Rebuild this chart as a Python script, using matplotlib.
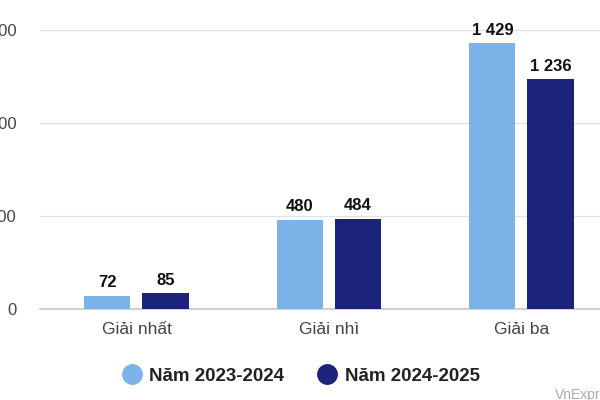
import matplotlib
matplotlib.use("Agg")
import matplotlib.pyplot as plt
from matplotlib.lines import Line2D
import numpy as np

categories = ["Giải nhất", "Giải nhì", "Giải ba"]
series_names = ["Năm 2023-2024", "Năm 2024-2025"]
values_2324 = [72, 480, 1429]
values_2425 = [85, 484, 1236]
yticks = [0, 500, 1000, 1500]
ytick_labels = ["0", "500", "1 000", "1 500"]
colors = ["#7cb4ea", "#1b237a"]

plt.rcParams['font.family'] = ['Liberation Sans', 'DejaVu Sans']

fig = plt.figure(figsize=(6, 4), dpi=100)
ax = fig.add_axes([0.067, 0.2275, 0.9625, 0.6975])

x = np.arange(len(categories))
w = 0.24
off = 0.151
for vals, col, sign in [(values_2324, colors[0], -1), (values_2425, colors[1], 1)]:
    bars = ax.bar(x + sign * off, vals, width=w, color=col, zorder=3)
    for b, v in zip(bars, vals):
        lab = f"{v:,}".replace(",", " ")
        ax.annotate(lab, (b.get_x() + b.get_width() / 2, v), xytext=(0, 4),
                    textcoords="offset points", ha="center", va="bottom",
                    fontsize=12, fontweight="bold", color="#111111",
                    annotation_clip=False)

ax.set_xlim(-0.5, 2.5)
ax.set_ylim(0, 1500)
ax.set_yticks(yticks)
ax.set_yticklabels(ytick_labels)
ax.set_xticks(x)
ax.set_xticklabels(categories)
for s in ["top", "right", "left"]:
    ax.spines[s].set_visible(False)
ax.spines["bottom"].set_color("#c8c8c8")
ax.spines["bottom"].set_linewidth(1.2)
ax.grid(axis="y", color="#e2e2e2", linewidth=1.0, zorder=0)
ax.tick_params(axis="y", length=0, pad=17, labelsize=12, labelcolor="#444444")
ax.tick_params(axis="x", length=0, pad=9, labelsize=12.5, labelcolor="#444444")

handles = [Line2D([0], [0], marker="o", linestyle="none", markersize=14,
                  markerfacecolor=c, markeredgecolor=c) for c in colors]
leg = fig.legend(handles, series_names, loc="center", bbox_to_anchor=(0.502, 0.06),
                 ncol=2, frameon=False, prop={"weight": "bold", "size": 13.5},
                 handlelength=1.0, handletextpad=0.45, columnspacing=1.8)
for t in leg.get_texts():
    t.set_color("#222222")

fig.text(0.925, 0.03, "VnExpress", fontsize=10, color="#aaaaaa", ha="left", va="top")

fig.savefig("out.png", dpi=100)
